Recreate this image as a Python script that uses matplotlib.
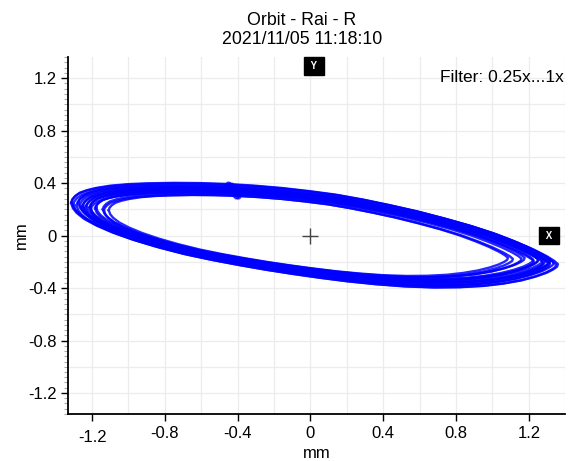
import numpy as np
import matplotlib
matplotlib.use('Agg')
import matplotlib.pyplot as plt
from matplotlib.ticker import MultipleLocator

plt.rcParams['font.family'] = ['Liberation Sans', 'DejaVu Sans']

# outer revolution of the orbit (mm), clockwise from the left tip
orbit_x = [-1.315, -1.31, -1.295, -1.27, -1.23, -1.18, -1.10, -1.00, -0.90, -0.75,
           -0.60, -0.45, -0.30, -0.15, 0.00, 0.15, 0.30, 0.45, 0.60, 0.75,
           0.90, 1.03, 1.14, 1.23, 1.30, 1.34, 1.36, 1.355, 1.335, 1.30,
           1.24, 1.16, 1.06, 0.95, 0.82, 0.68, 0.52, 0.36, 0.20, 0.05,
           -0.10, -0.25, -0.40, -0.55, -0.70, -0.85, -0.98, -1.09, -1.18, -1.245,
           -1.285, -1.305, -1.315]
orbit_y = [0.25, 0.275, 0.30, 0.325, 0.345, 0.362, 0.38, 0.392, 0.398, 0.402,
           0.40, 0.393, 0.38, 0.362, 0.338, 0.31, 0.272, 0.228, 0.18, 0.125,
           0.065, 0.005, -0.055, -0.11, -0.16, -0.195, -0.22, -0.24, -0.26, -0.285,
           -0.315, -0.345, -0.37, -0.388, -0.398, -0.40, -0.392, -0.375, -0.352, -0.325,
           -0.295, -0.262, -0.225, -0.185, -0.14, -0.085, -0.03, 0.025, 0.08, 0.13,
           0.175, 0.21, 0.25]
kp_index = 11  # keyphasor dot position on each revolution

# spread of the single revolutions (size and offset relative to the outer one)
rev_sx = [1.00, 0.99, 0.985, 0.975, 0.97, 0.96, 0.955, 0.95, 0.94, 0.935,
          0.93, 0.92, 0.91, 0.90, 0.88, 0.86, 0.84, 0.82]
rev_sy = [0.99, 0.975, 0.96, 0.95, 0.935, 0.925, 0.91, 0.90, 0.89, 0.875,
          0.865, 0.85, 0.84, 0.83, 0.815, 0.80, 0.785, 0.77]
rev_dx = [0.0, -0.01, 0.01, -0.02, 0.0, 0.01, -0.01, 0.02, 0.0, -0.02,
          0.01, 0.0, -0.01, 0.0, -0.02, -0.01, -0.03, -0.03]
rev_dy = [0.0, 0.01, -0.01, 0.0, 0.015, -0.01, 0.005, 0.0, -0.01, 0.01,
          0.0, 0.005, -0.01, 0.0, 0.01, 0.0, -0.005, 0.0]

x_ticks = [-1.2, -0.8, -0.4, 0, 0.4, 0.8, 1.2]
y_ticks = [-1.2, -0.8, -0.4, 0, 0.4, 0.8, 1.2]
title = 'Orbit - Rai - R\n2021/11/05 11:18:10'
filter_txt = 'Filter: 0.25x...1x'

fig = plt.figure(figsize=(5.75, 4.61), dpi=100)
ax = fig.add_axes([0.119, 0.102, 0.864, 0.774])
ax.set_xlim(-1.33, 1.40)
ax.set_ylim(-1.36, 1.36)

# light grid every 0.2
for g in np.arange(-1.2, 1.41, 0.2):
    ax.axvline(g, color='#ececec', lw=0.9, zorder=0)
    ax.axhline(g, color='#ececec', lw=0.9, zorder=0)

ox = np.array(orbit_x)
oy = np.array(orbit_y)
for sx, sy, dx, dy in zip(rev_sx, rev_sy, rev_dx, rev_dy):
    ax.plot(ox * sx + dx, oy * sy + dy, color='#0000ff', lw=1.7, alpha=0.85,
            solid_joinstyle='round', zorder=2)
    ax.plot(ox[kp_index] * sx + dx, oy[kp_index] * sy + dy, 'o', color='#0000ff',
            ms=3.5, alpha=0.6, zorder=2)

ax.plot(0, 0, marker='+', ms=11, mew=1.0, color='#444444', zorder=3)

box = dict(boxstyle='square,pad=0.4', fc='black', ec='black')
ax.text(0.02, 1.29, ' Y ', color='white', fontsize=7, fontweight='bold',
        ha='center', va='center', bbox=box, zorder=4)
ax.text(1.31, 0.0, ' X ', color='white', fontsize=7, fontweight='bold',
        ha='center', va='center', bbox=box, zorder=4)
ax.text(0.997, 0.965, filter_txt, transform=ax.transAxes, ha='right', va='top', fontsize=12.5)

ax.set_xticks(x_ticks)
ax.set_yticks(y_ticks)
ax.set_xticklabels([f'{v:g}' for v in x_ticks])
ax.set_yticklabels([f'{v:g}' for v in y_ticks])
ax.yaxis.set_minor_locator(MultipleLocator(0.04))
ax.tick_params(axis='both', which='major', labelsize=12, length=5, width=1, color='black')
ax.tick_params(axis='y', which='minor', length=3, width=0.8, color='#aaaaaa')
ax.tick_params(axis='x', which='minor', length=0)
ax.set_xlabel('mm', fontsize=12, labelpad=1)
ax.set_ylabel('mm', fontsize=12, labelpad=-1)
# the -1.2 label sits a little lower in the original
ax.get_xticklabels()[0].set_y(-0.012)

for s in ['top', 'right']:
    ax.spines[s].set_visible(False)
for s in ['left', 'bottom']:
    ax.spines[s].set_linewidth(1.3)

fig.text(0.525, 0.975, title, ha='center', va='top', fontsize=12.8, linespacing=1.2)

fig.savefig('out.png', dpi=100)
